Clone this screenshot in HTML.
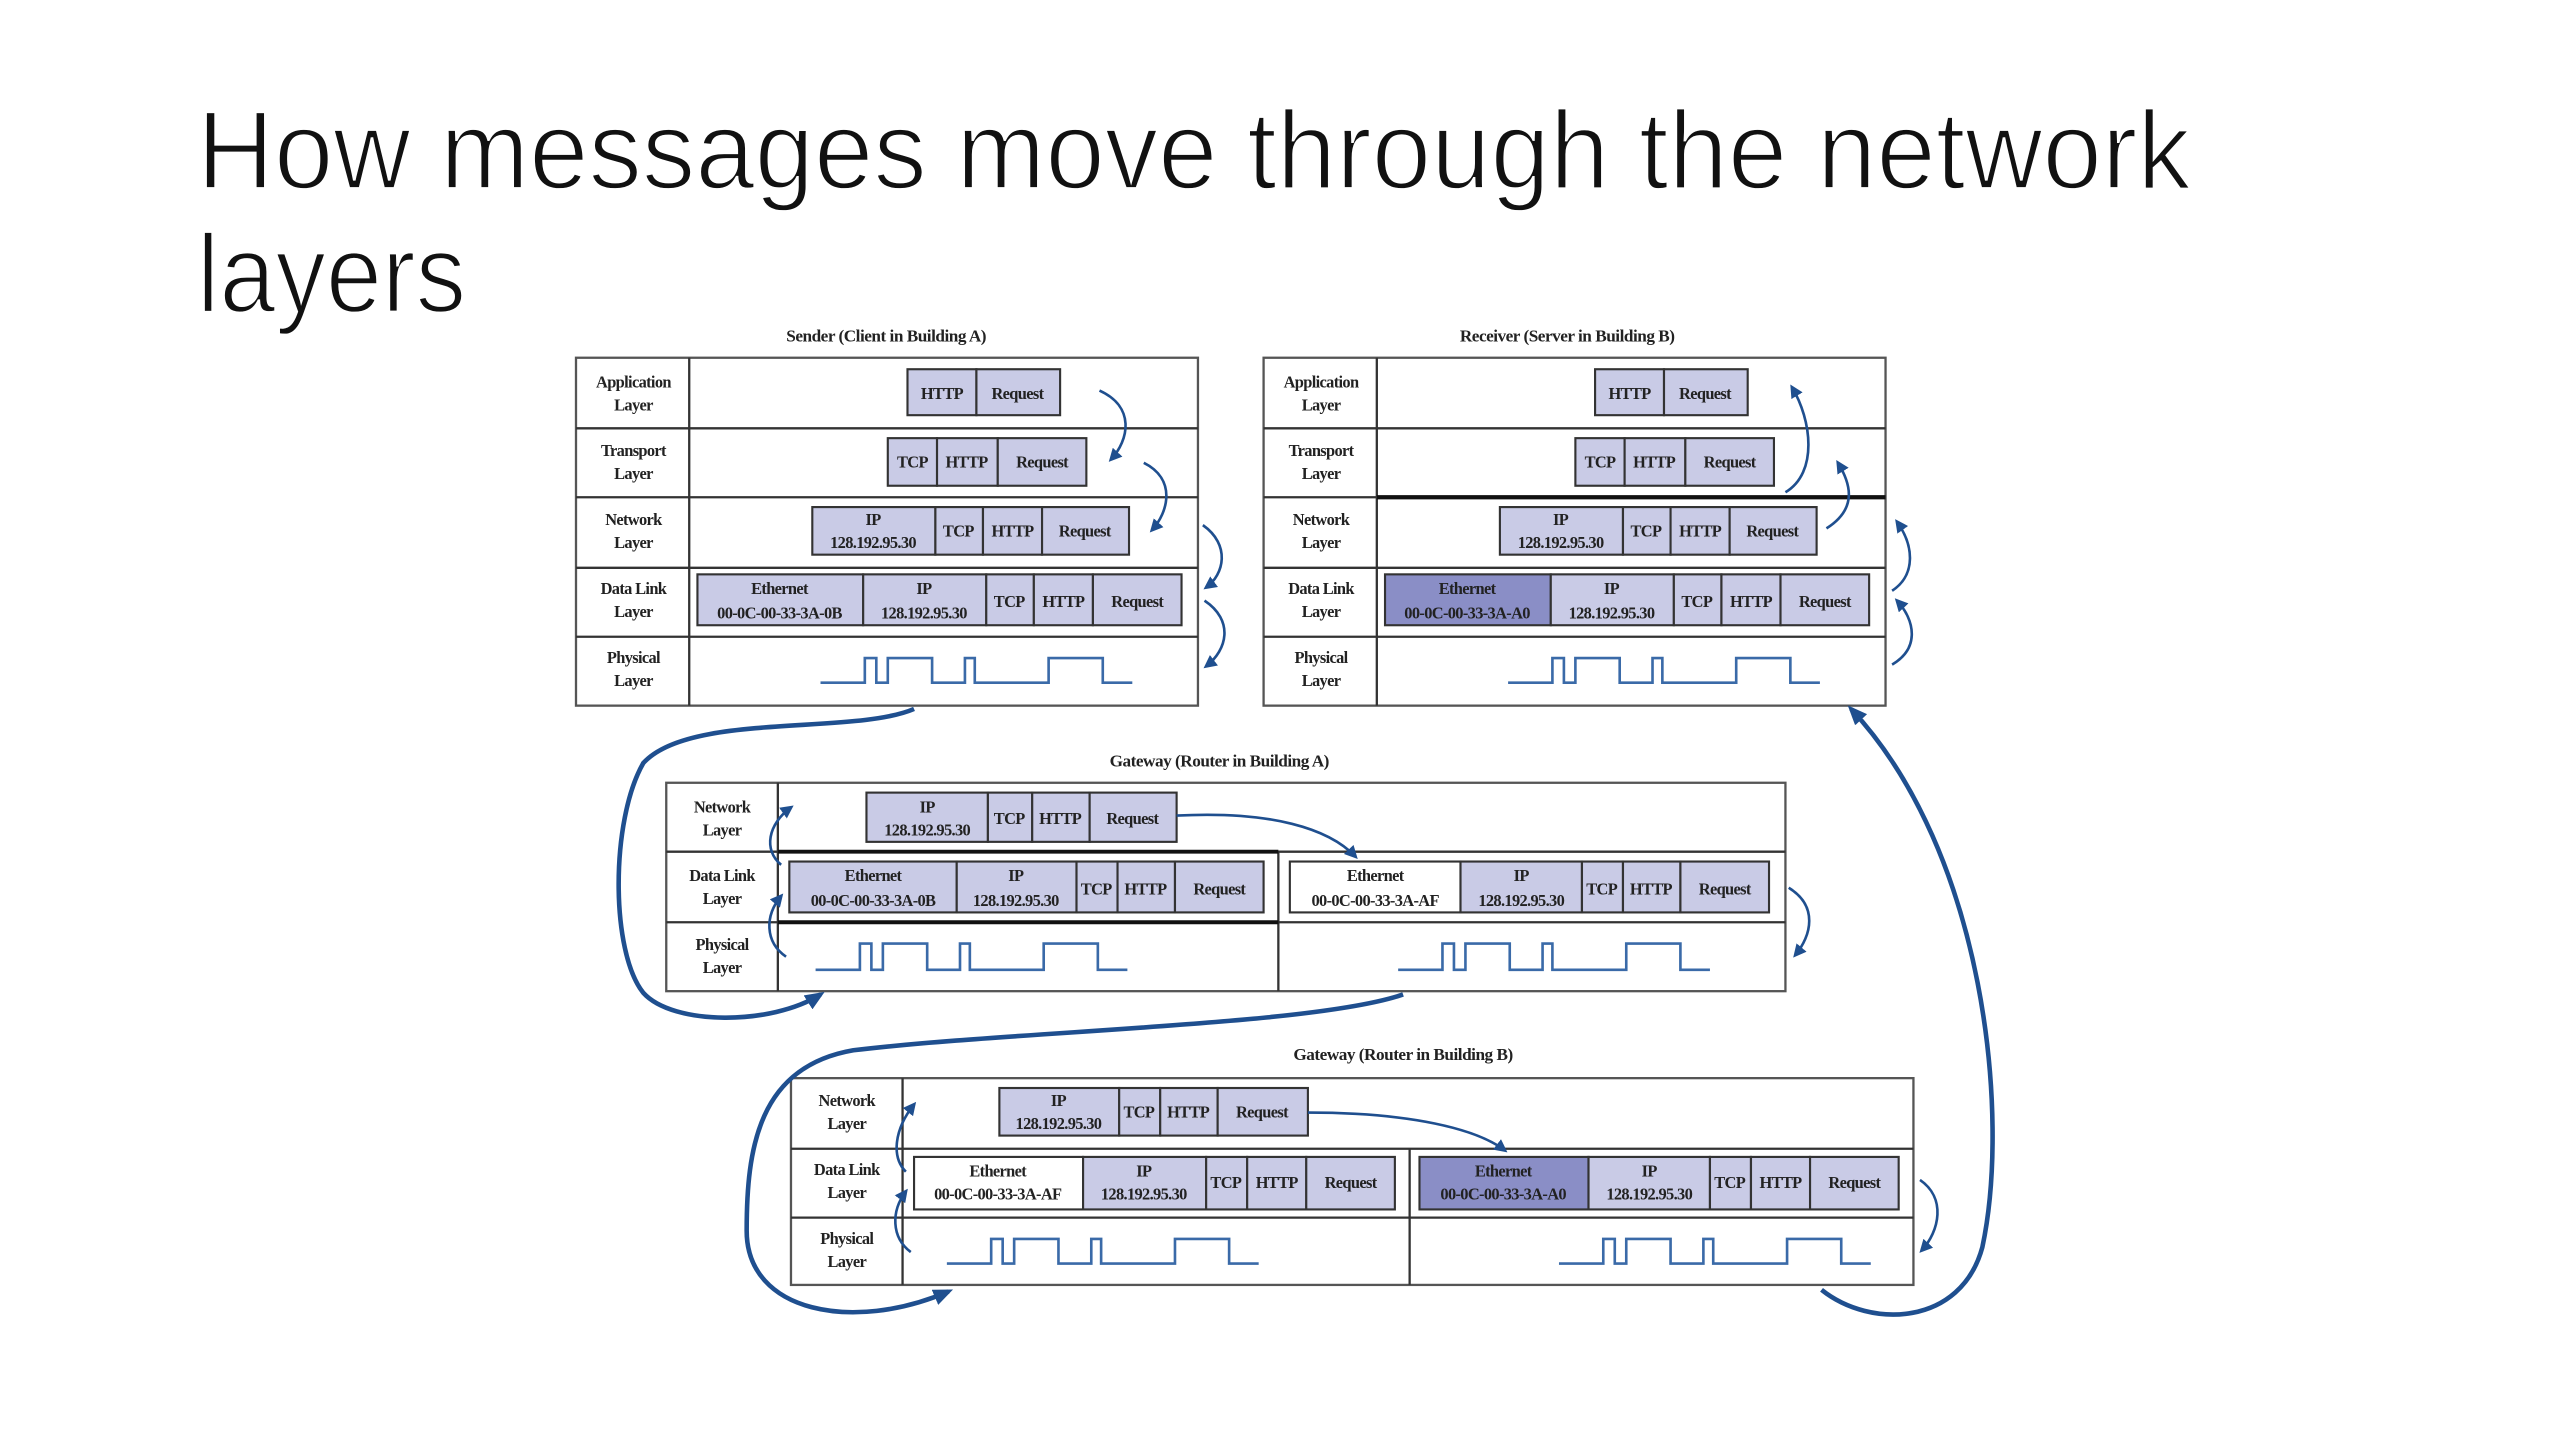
<!DOCTYPE html>
<html><head><meta charset="utf-8"><style>
html,body{margin:0;padding:0;background:#fff;width:2560px;height:1440px;overflow:hidden}
svg{display:block}
.t{font-family:"Liberation Serif",serif;font-weight:bold;font-size:10px;fill:#222;text-anchor:middle;letter-spacing:-0.4px}
.cap{font-family:"Liberation Serif",serif;font-weight:bold;font-size:10.5px;fill:#222;text-anchor:middle;letter-spacing:-0.3px}
.p{fill:#c9cbe6;stroke:#333;stroke-width:1.3}
.pd{fill:#8a8ec6;stroke:#333;stroke-width:1.3}
.pw{fill:#fff;stroke:#333;stroke-width:1.3}
.box{fill:#fff;stroke:#555;stroke-width:1.4}
.ln{stroke:#333;stroke-width:1.4;fill:none}
.w{fill:none;stroke:#3a6aa8;stroke-width:1.6}
.a{fill:none;stroke:#1f4f8f;stroke-width:1.6;marker-end:url(#ah)}
.A{fill:none;stroke:#1f4f8f;stroke-width:2.8;marker-end:url(#ah2)}
.ti{font-family:"Liberation Sans",sans-serif;font-size:68px;fill:#111;stroke:#fff;stroke-width:1.6;paint-order:normal}
</style></head><body>
<svg width="2560" height="1440" viewBox="0 0 1560 877.5" preserveAspectRatio="none" xmlns="http://www.w3.org/2000/svg">
<defs>
<marker id="ah" markerWidth="8" markerHeight="8" refX="6" refY="4" orient="auto" markerUnits="userSpaceOnUse"><path d="M0,0 L8,4 L0,8 Z" fill="#1f4f8f"/></marker>
<marker id="ah2" markerWidth="12" markerHeight="10" refX="9" refY="5" orient="auto" markerUnits="userSpaceOnUse"><path d="M0,0 L12,5 L0,10 Z" fill="#1f4f8f"/></marker>
</defs>
<text class="ti" x="120" y="115" textLength="1215" lengthAdjust="spacingAndGlyphs">How messages move through the network</text>
<text class="ti" x="120" y="190" textLength="164" lengthAdjust="spacingAndGlyphs">layers</text>

<!-- SENDER -->
<text class="cap" x="540" y="208">Sender (Client in Building A)</text>
<rect class="box" x="351" y="218" width="379" height="212"/>
<path class="ln" d="M420,218V430M351,261H730M351,303H730M351,346H730M351,388H730"/>
<g class="t">
<text x="386" y="236">Application</text><text x="386" y="250">Layer</text>
<text x="386" y="278">Transport</text><text x="386" y="292">Layer</text>
<text x="386" y="320">Network</text><text x="386" y="334">Layer</text>
<text x="386" y="362">Data Link</text><text x="386" y="376">Layer</text>
<text x="386" y="404">Physical</text><text x="386" y="418">Layer</text>
</g>
<g>
<rect class="p" x="553" y="225" width="42" height="28"/><rect class="p" x="595" y="225" width="51" height="28"/>
<rect class="p" x="541" y="267" width="30" height="29"/><rect class="p" x="571" y="267" width="37" height="29"/><rect class="p" x="608" y="267" width="54" height="29"/>
<rect class="p" x="495" y="309" width="75" height="29"/><rect class="p" x="570" y="309" width="29" height="29"/><rect class="p" x="599" y="309" width="36" height="29"/><rect class="p" x="635" y="309" width="53" height="29"/>
<rect class="p" x="425" y="350" width="101" height="31"/><rect class="p" x="526" y="350" width="75" height="31"/><rect class="p" x="601" y="350" width="29" height="31"/><rect class="p" x="630" y="350" width="36" height="31"/><rect class="p" x="666" y="350" width="54" height="31"/>
</g>
<g class="t">
<text x="574" y="243">HTTP</text><text x="620" y="243">Request</text>
<text x="556" y="285">TCP</text><text x="589" y="285">HTTP</text><text x="635" y="285">Request</text>
<text x="532" y="320">IP</text><text x="532" y="334">128.192.95.30</text><text x="584" y="327">TCP</text><text x="617" y="327">HTTP</text><text x="661" y="327">Request</text>
<text x="475" y="362">Ethernet</text><text x="475" y="377">00-0C-00-33-3A-0B</text><text x="563" y="362">IP</text><text x="563" y="377">128.192.95.30</text><text x="615" y="370">TCP</text><text x="648" y="370">HTTP</text><text x="693" y="370">Request</text>
</g>
<path class="w" d="M500,416H527V401H534V416H541V401H568V416H588V401H594V416H639V401H672V416H690"/>

<!-- RECEIVER -->
<text class="cap" x="955" y="208">Receiver (Server in Building B)</text>
<rect class="box" x="770" y="218" width="379" height="212"/>
<path class="ln" d="M839,218V430M770,261H1149M770,346H1149M770,388H1149"/>
<path d="M839,303H1149" stroke="#111" stroke-width="2.6"/>
<path d="M770,303H839" stroke="#333" stroke-width="1.4"/>
<g class="t">
<text x="805" y="236">Application</text><text x="805" y="250">Layer</text>
<text x="805" y="278">Transport</text><text x="805" y="292">Layer</text>
<text x="805" y="320">Network</text><text x="805" y="334">Layer</text>
<text x="805" y="362">Data Link</text><text x="805" y="376">Layer</text>
<text x="805" y="404">Physical</text><text x="805" y="418">Layer</text>
</g>
<g transform="translate(419,0)">
<rect class="p" x="553" y="225" width="42" height="28"/><rect class="p" x="595" y="225" width="51" height="28"/>
<rect class="p" x="541" y="267" width="30" height="29"/><rect class="p" x="571" y="267" width="37" height="29"/><rect class="p" x="608" y="267" width="54" height="29"/>
<rect class="p" x="495" y="309" width="75" height="29"/><rect class="p" x="570" y="309" width="29" height="29"/><rect class="p" x="599" y="309" width="36" height="29"/><rect class="p" x="635" y="309" width="53" height="29"/>
<rect class="pd" x="425" y="350" width="101" height="31"/><rect class="p" x="526" y="350" width="75" height="31"/><rect class="p" x="601" y="350" width="29" height="31"/><rect class="p" x="630" y="350" width="36" height="31"/><rect class="p" x="666" y="350" width="54" height="31"/>
<g class="t">
<text x="574" y="243">HTTP</text><text x="620" y="243">Request</text>
<text x="556" y="285">TCP</text><text x="589" y="285">HTTP</text><text x="635" y="285">Request</text>
<text x="532" y="320">IP</text><text x="532" y="334">128.192.95.30</text><text x="584" y="327">TCP</text><text x="617" y="327">HTTP</text><text x="661" y="327">Request</text>
<text x="475" y="362">Ethernet</text><text x="475" y="377">00-0C-00-33-3A-A0</text><text x="563" y="362">IP</text><text x="563" y="377">128.192.95.30</text><text x="615" y="370">TCP</text><text x="648" y="370">HTTP</text><text x="693" y="370">Request</text>
</g>
<path class="w" d="M500,416H527V401H534V416H541V401H568V416H588V401H594V416H639V401H672V416H690"/>
</g>

<!-- GATEWAY A -->
<text class="cap" x="743" y="467">Gateway (Router in Building A)</text>
<rect class="box" x="406" y="477" width="682" height="127"/>
<path class="ln" d="M474,477V604M406,519H1088M406,562H1088M779,519V604"/>
<path d="M474,519H779M474,562H779" stroke="#111" stroke-width="2.4"/>
<g class="t">
<text x="440" y="495">Network</text><text x="440" y="509">Layer</text>
<text x="440" y="537">Data Link</text><text x="440" y="551">Layer</text>
<text x="440" y="579">Physical</text><text x="440" y="593">Layer</text>
</g>
<rect class="p" x="528" y="483" width="74" height="30"/><rect class="p" x="602" y="483" width="27" height="30"/><rect class="p" x="629" y="483" width="35" height="30"/><rect class="p" x="664" y="483" width="53" height="30"/>
<rect class="p" x="481" y="525" width="102" height="31"/><rect class="p" x="583" y="525" width="73" height="31"/><rect class="p" x="656" y="525" width="25" height="31"/><rect class="p" x="681" y="525" width="35" height="31"/><rect class="p" x="716" y="525" width="54" height="31"/>
<rect class="pw" x="786" y="525" width="104" height="31"/><rect class="p" x="890" y="525" width="74" height="31"/><rect class="p" x="964" y="525" width="25" height="31"/><rect class="p" x="989" y="525" width="35" height="31"/><rect class="p" x="1024" y="525" width="54" height="31"/>
<g class="t">
<text x="565" y="495">IP</text><text x="565" y="509">128.192.95.30</text><text x="615" y="502">TCP</text><text x="646" y="502">HTTP</text><text x="690" y="502">Request</text>
<text x="532" y="537">Ethernet</text><text x="532" y="552">00-0C-00-33-3A-0B</text><text x="619" y="537">IP</text><text x="619" y="552">128.192.95.30</text><text x="668" y="545">TCP</text><text x="698" y="545">HTTP</text><text x="743" y="545">Request</text>
<text x="838" y="537">Ethernet</text><text x="838" y="552">00-0C-00-33-3A-AF</text><text x="927" y="537">IP</text><text x="927" y="552">128.192.95.30</text><text x="976" y="545">TCP</text><text x="1006" y="545">HTTP</text><text x="1051" y="545">Request</text>
</g>
<path class="w" d="M497,591H524V575H531V591H538V575H565V591H585V575H591V591H636V575H669V591H687"/>
<path class="w" d="M852,591H879V575H886V591H893V575H920V591H940V575H946V591H991V575H1024V591H1042"/>

<!-- GATEWAY B -->
<text class="cap" x="855" y="646">Gateway (Router in Building B)</text>
<rect class="box" x="482" y="657" width="684" height="126"/>
<path class="ln" d="M550,657V783M482,700H1166M482,742H1166M859,700V783"/>
<g class="t">
<text x="516" y="674">Network</text><text x="516" y="688">Layer</text>
<text x="516" y="716">Data Link</text><text x="516" y="730">Layer</text>
<text x="516" y="758">Physical</text><text x="516" y="772">Layer</text>
</g>
<rect class="p" x="609" y="663" width="73" height="29"/><rect class="p" x="682" y="663" width="25" height="29"/><rect class="p" x="707" y="663" width="35" height="29"/><rect class="p" x="742" y="663" width="55" height="29"/>
<rect class="pw" x="557" y="705" width="103" height="32"/><rect class="p" x="660" y="705" width="75" height="32"/><rect class="p" x="735" y="705" width="25" height="32"/><rect class="p" x="760" y="705" width="36" height="32"/><rect class="p" x="796" y="705" width="54" height="32"/>
<rect class="pd" x="865" y="705" width="103" height="32"/><rect class="p" x="968" y="705" width="74" height="32"/><rect class="p" x="1042" y="705" width="25" height="32"/><rect class="p" x="1067" y="705" width="36" height="32"/><rect class="p" x="1103" y="705" width="54" height="32"/>
<g class="t">
<text x="645" y="674">IP</text><text x="645" y="688">128.192.95.30</text><text x="694" y="681">TCP</text><text x="724" y="681">HTTP</text><text x="769" y="681">Request</text>
<text x="608" y="717">Ethernet</text><text x="608" y="731">00-0C-00-33-3A-AF</text><text x="697" y="717">IP</text><text x="697" y="731">128.192.95.30</text><text x="747" y="724">TCP</text><text x="778" y="724">HTTP</text><text x="823" y="724">Request</text>
<text x="916" y="717">Ethernet</text><text x="916" y="731">00-0C-00-33-3A-A0</text><text x="1005" y="717">IP</text><text x="1005" y="731">128.192.95.30</text><text x="1054" y="724">TCP</text><text x="1085" y="724">HTTP</text><text x="1130" y="724">Request</text>
</g>
<path class="w" d="M577,770H604V755H611V770H618V755H645V770H665V755H671V770H716V755H749V770H767"/>
<path class="w" d="M950,770H977V755H984V770H991V755H1018V770H1038V755H1044V770H1089V755H1122V770H1140"/>

<!-- small arrows -->
<path class="a" d="M670,238 C692,248 688,268 677,280"/>
<path class="a" d="M697,282 C717,292 712,312 702,323"/>
<path class="a" d="M733,320 C750,332 746,350 735,358"/>
<path class="a" d="M734,366 C752,378 748,396 735,406"/>
<path class="a" d="M1088,300 C1108,288 1104,256 1092,236"/>
<path class="a" d="M1113,322 C1132,310 1128,295 1120,282"/>
<path class="a" d="M1153,360 C1168,350 1166,332 1156,318"/>
<path class="a" d="M1153,405 C1170,395 1167,378 1156,366"/>
<path class="a" d="M479,583 C466,574 466,558 476,546"/>
<path class="a" d="M476,527 C465,518 468,502 482,492"/>
<path class="a" d="M717,497 C775,494 810,505 826,522"/>
<path class="a" d="M1090,541 C1108,552 1104,570 1094,582"/>
<path class="a" d="M555,763 C543,754 543,738 552,726"/>
<path class="a" d="M552,714 C543,705 545,688 557,673"/>
<path class="a" d="M797,678 C860,678 900,688 917,701"/>
<path class="a" d="M1170,719 C1186,730 1182,750 1171,762"/>

<!-- big arrows -->
<path class="A" d="M557,432 C520,448 420,434 392,465 C372,500 372,580 392,605 C410,625 470,625 500,606"/>
<path class="A" d="M855,606 C800,625 620,628 520,640 C462,650 455,700 455,750 C455,800 520,812 578,787"/>
<path class="A" d="M1110,786 C1140,810 1195,808 1208,760 C1225,680 1210,520 1128,432"/>
</svg>
</body></html>
